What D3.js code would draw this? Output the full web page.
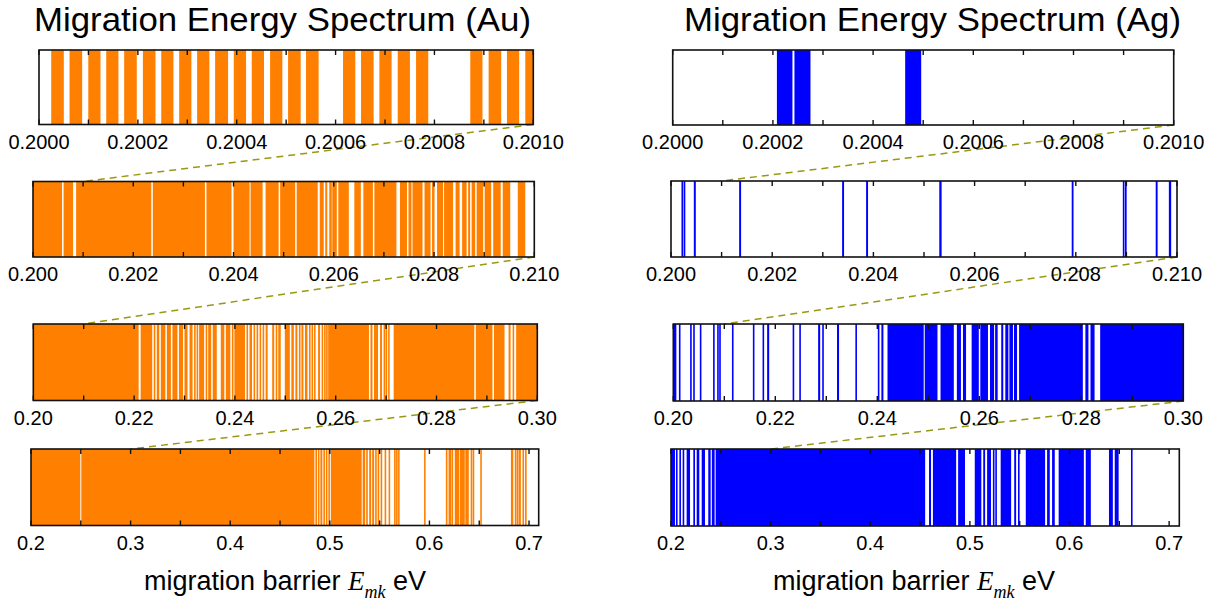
<!doctype html>
<html>
<head>
<meta charset="utf-8">
<title>Migration Energy Spectrum</title>
<script src="https://d3js.org/d3.v7.min.js"></script>
<style>
  body { margin: 0; background: #fff; }
  text { font-family: "Liberation Sans", Arial, sans-serif; fill: #000; }
</style>
</head>
<body>
<svg id="chart" width="1226" height="607"></svg>
<script>
// spectrum bands [low, high] in eV

// Au, zoom 0.2000 - 0.2010
const auRow1 = [
  [0.2000247, 0.2000502], [0.2000618, 0.2000873], [0.2000997, 0.2001244], [0.2001360, 0.2001607],
  [0.2001723, 0.2001978], [0.2002102, 0.2002357], [0.2002473, 0.2002720], [0.2002836, 0.2003083],
  [0.2003199, 0.2003447], [0.2003563, 0.2003825], [0.2003941, 0.2004189], [0.2004304, 0.2004552],
  [0.2004675, 0.2004923], [0.2005039, 0.2005294], [0.2005402, 0.2005657], [0.2006151, 0.2006399],
  [0.2006515, 0.2006770], [0.2006886, 0.2007133], [0.2007257, 0.2007504], [0.2007628, 0.2007875],
  [0.2008725, 0.2008972], [0.2009096, 0.2009351], [0.2009467, 0.2009714], [0.2009838, 0.2010000]
];
// Au, zoom 0.200 - 0.210
const auRow2 = [
  [0.20000, 0.20058], [0.20061, 0.20080], [0.20086, 0.20236], [0.20239, 0.20343], [0.20346, 0.20396],
  [0.20400, 0.20432], [0.20434, 0.20458], [0.20464, 0.20490], [0.20493, 0.20523], [0.20526, 0.20568],
  [0.20572, 0.20580], [0.20583, 0.20587], [0.20591, 0.20596], [0.20597, 0.20606], [0.20609, 0.20630],
  [0.20641, 0.20654], [0.20659, 0.20678], [0.20681, 0.20725], [0.20732, 0.20746], [0.20749, 0.20755],
  [0.20757, 0.20777], [0.20781, 0.20793], [0.20796, 0.20801], [0.20806, 0.20818], [0.20820, 0.20838],
  [0.20843, 0.20851], [0.20856, 0.20865], [0.20868, 0.20872], [0.20875, 0.20882], [0.20885, 0.20898],
  [0.20901, 0.20914], [0.20918, 0.20933], [0.20937, 0.20952], [0.20967, 0.20982]
];
// Au, zoom 0.20 - 0.30
const auRow3 = [
  [0.2000, 0.2209], [0.2213, 0.2236], [0.2239, 0.2241], [0.2245, 0.2250], [0.2253, 0.2262],
  [0.2265, 0.2273], [0.2276, 0.2286], [0.2289, 0.2297], [0.2300, 0.2306], [0.2310, 0.2316],
  [0.2319, 0.2321], [0.2324, 0.2326], [0.2329, 0.2339], [0.2342, 0.2344], [0.2347, 0.2353],
  [0.2356, 0.2364], [0.2372, 0.2379], [0.2382, 0.2391], [0.2394, 0.2396], [0.2399, 0.2420],
  [0.2423, 0.2426], [0.2429, 0.2434], [0.2437, 0.2440], [0.2443, 0.2446], [0.2449, 0.2452],
  [0.2455, 0.2458], [0.2461, 0.2465], [0.2474, 0.2478], [0.2481, 0.2482], [0.2486, 0.2491],
  [0.2499, 0.2509], [0.2512, 0.2517], [0.2520, 0.2524], [0.2527, 0.2529], [0.2532, 0.2536],
  [0.2539, 0.2544], [0.2547, 0.2549], [0.2552, 0.2554], [0.2557, 0.2560], [0.2565, 0.2569],
  [0.2572, 0.2574], [0.2577, 0.2578], [0.2581, 0.2582], [0.2585, 0.2666], [0.2669, 0.2673],
  [0.2676, 0.2684], [0.2688, 0.2692], [0.2695, 0.2696], [0.2699, 0.2700], [0.2704, 0.2707],
  [0.2715, 0.2875], [0.2878, 0.2911], [0.2914, 0.2935], [0.2943, 0.2947], [0.2951, 0.2954],
  [0.2958, 0.3000]
];
// Au, full range 0.2 - 0.71
const auRow4 = [
  [0.2000, 0.2495], [0.2505, 0.4845], [0.4855, 0.4870], [0.4880, 0.4895], [0.4905, 0.4925],
  [0.4935, 0.4945], [0.4960, 0.4970], [0.4985, 0.4990], [0.5010, 0.5320], [0.5330, 0.5355],
  [0.5365, 0.5380], [0.5395, 0.5415], [0.5425, 0.5445], [0.5455, 0.5470], [0.5480, 0.5490],
  [0.5510, 0.5515], [0.5550, 0.5555], [0.5590, 0.5594], [0.5645, 0.5650], [0.5665, 0.5670],
  [0.5685, 0.5688], [0.5946, 0.5952], [0.6165, 0.6170], [0.6192, 0.6197], [0.6203, 0.6207],
  [0.6222, 0.6238], [0.6254, 0.6300], [0.6306, 0.6355], [0.6360, 0.6395], [0.6414, 0.6418],
  [0.6434, 0.6438], [0.6510, 0.6514], [0.6818, 0.6842], [0.6857, 0.6861], [0.6876, 0.6880],
  [0.6895, 0.6918], [0.6934, 0.6938], [0.6960, 0.6975]
];

// Ag, zoom 0.2000 - 0.2010
const agRow1 = [
  [0.200208, 0.200239], [0.200243, 0.200275], [0.200464, 0.200496]
];
// Ag, zoom 0.200 - 0.210
const agRow2 = [
  [0.200207, 0.200240], [0.200250, 0.200283], [0.200451, 0.200490], [0.201347, 0.201385],
  [0.203382, 0.203420], [0.203856, 0.203894], [0.205302, 0.205348], [0.207919, 0.207955],
  [0.208929, 0.208960], [0.208970, 0.209005], [0.209579, 0.209617], [0.209839, 0.209885]
];
// Ag, zoom 0.20 - 0.30
const agRow3 = [
  [0.2000, 0.2006], [0.2011, 0.2014], [0.2033, 0.2035], [0.2039, 0.2040], [0.2052, 0.2054],
  [0.2078, 0.2080], [0.2086, 0.2088], [0.2090, 0.2093], [0.2115, 0.2118], [0.2156, 0.2159],
  [0.2175, 0.2178], [0.2184, 0.2188], [0.2234, 0.2237], [0.2247, 0.2249], [0.2284, 0.2288],
  [0.2292, 0.2295], [0.2321, 0.2325], [0.2357, 0.2359], [0.2401, 0.2404], [0.2408, 0.2412],
  [0.2420, 0.2491], [0.2493, 0.2518], [0.2524, 0.2550], [0.2556, 0.2564], [0.2568, 0.2574],
  [0.2585, 0.2599], [0.2602, 0.2617], [0.2621, 0.2629], [0.2631, 0.2636], [0.2643, 0.2647],
  [0.2651, 0.2657], [0.2659, 0.2666], [0.2668, 0.2674], [0.2678, 0.2803], [0.2808, 0.2814],
  [0.2818, 0.2826], [0.2837, 0.3000]
];
// Ag, full range 0.2 - 0.71
const agRow4 = [
  [0.2000, 0.2040], [0.2050, 0.2064], [0.2084, 0.2100], [0.2117, 0.2133], [0.2157, 0.2191],
  [0.2224, 0.2241], [0.2258, 0.2284], [0.2308, 0.2341], [0.2374, 0.2398], [0.2410, 0.2438],
  [0.2448, 0.4551], [0.4590, 0.4610], [0.4629, 0.4862], [0.4882, 0.4951], [0.5049, 0.5115],
  [0.5134, 0.5153], [0.5173, 0.5212], [0.5231, 0.5245], [0.5255, 0.5270], [0.5309, 0.5414],
  [0.5445, 0.5464], [0.5483, 0.5490], [0.5561, 0.5755], [0.5775, 0.5802], [0.5825, 0.5852],
  [0.5891, 0.6144], [0.6163, 0.6214], [0.6396, 0.6435], [0.6454, 0.6493], [0.6617, 0.6629]
];

// axis ranges and ticks per zoom level
const rowDomainsAu = [[0.2, 0.201], [0.2, 0.21], [0.2, 0.3], [0.2, 0.7097]];
const rowDomainsAg = [[0.2, 0.201], [0.2, 0.21], [0.2, 0.3], [0.2, 0.7102]];
const majorTicks = [
  [0.2000, 0.2002, 0.2004, 0.2006, 0.2008, 0.2010],
  [0.200, 0.202, 0.204, 0.206, 0.208, 0.210],
  [0.20, 0.22, 0.24, 0.26, 0.28, 0.30],
  [0.2, 0.3, 0.4, 0.5, 0.6, 0.7]
];
const minorTicks = [
  [0.2001, 0.2003, 0.2005, 0.2007, 0.2009],
  [0.201, 0.203, 0.205, 0.207, 0.209],
  [0.21, 0.23, 0.25, 0.27, 0.29],
  [0.25, 0.35, 0.45, 0.55, 0.65]
];
const tickFormats = [".4f", ".3f", ".2f", ".1f"];

const svg = d3.select("#chart");

const columns = [
  {
    title: "Migration Energy Spectrum (Au)", titleX: 34, labelX: 144,
    color: "#ff8000", rows: [auRow1, auRow2, auRow3, auRow4], domains: rowDomainsAu,
    boxes: [[39, 533.3, 50, 124.5], [33, 534.3, 181.5, 257], [33.3, 537.3, 324, 400.5], [31, 538.7, 449, 525.5]]
  },
  {
    title: "Migration Energy Spectrum (Ag)", titleX: 684, labelX: 773,
    color: "#0000ff", rows: [agRow1, agRow2, agRow3, agRow4], domains: rowDomainsAg,
    boxes: [[672.7, 1173.7, 50, 125], [671, 1177, 181, 257], [673.3, 1183.3, 324, 401], [671, 1179.3, 449, 526]]
  }
];

columns.forEach(function(col, ci) {
  // title
  svg.append("text")
    .attr("x", col.titleX)
    .attr("y", 31)
    .attr("font-size", 33)
    .attr("textLength", 497)
    .attr("lengthAdjust", "spacingAndGlyphs")
    .text(col.title);

  const scales = col.boxes.map((b, ri) => d3.scaleLinear().domain(col.domains[ri]).range([b[0], b[1]]));

  // dashed zoom guides, behind everything else
  for (let ri = 0; ri < 3; ri++) {
    const top = col.boxes[ri], bot = col.boxes[ri + 1];
    const v = col.domains[ri][1];
    svg.append("line")
      .attr("x1", scales[ri](v)).attr("y1", top[3])
      .attr("x2", scales[ri + 1](v)).attr("y2", bot[2])
      .attr("stroke", "#999911")
      .attr("stroke-width", 1.5)
      .attr("stroke-dasharray", "7,5");
  }

  col.rows.forEach(function(data, ri) {
    const b = col.boxes[ri];
    const x = scales[ri];
    const g = svg.append("g");

    const clipId = "clip" + ci + "_" + ri;
    g.append("clipPath").attr("id", clipId)
      .append("rect").attr("x", b[0]).attr("y", b[2]).attr("width", b[1] - b[0]).attr("height", b[3] - b[2]);

    g.append("g").attr("clip-path", "url(#" + clipId + ")")
      .selectAll("rect")
      .data(data)
      .join("rect")
        .attr("x", d => x(d[0]))
        .attr("y", b[2])
        .attr("width", d => Math.max(x(d[1]) - x(d[0]), 1.6))
        .attr("height", b[3] - b[2])
        .attr("fill", col.color);

    // frame
    g.append("rect")
      .attr("x", b[0]).attr("y", b[2])
      .attr("width", b[1] - b[0]).attr("height", b[3] - b[2])
      .attr("fill", "none")
      .attr("stroke", "#111")
      .attr("stroke-width", 1.6);

    // inward ticks top and bottom
    const allTicks = majorTicks[ri].concat(minorTicks[ri]);
    g.selectAll(".tb")
      .data(allTicks)
      .join("line")
        .attr("x1", d => x(d)).attr("x2", d => x(d))
        .attr("y1", b[3]).attr("y2", b[3] - 5)
        .attr("stroke", "#111").attr("stroke-width", 1.4);
    g.selectAll(".tt")
      .data(allTicks)
      .join("line")
        .attr("x1", d => x(d)).attr("x2", d => x(d))
        .attr("y1", b[2]).attr("y2", b[2] + 5)
        .attr("stroke", "#111").attr("stroke-width", 1.4);

    // tick labels
    const fmt = d3.format(tickFormats[ri]);
    g.selectAll(".lab")
      .data(majorTicks[ri])
      .join("text")
        .attr("x", d => x(d))
        .attr("y", b[3] + 24)
        .attr("text-anchor", "middle")
        .attr("font-size", 20)
        .text(d => fmt(d));
  });

  // x axis label
  const lab = svg.append("text")
    .attr("x", col.labelX)
    .attr("y", 590)
    .attr("font-size", 27);
  lab.append("tspan").text("migration barrier ");
  lab.append("tspan")
    .style("font-family", "'Liberation Serif', 'Times New Roman', serif")
    .style("font-style", "italic")
    .text("E");
  lab.append("tspan")
    .attr("dy", 8)
    .attr("font-size", 18)
    .style("font-family", "'Liberation Serif', 'Times New Roman', serif")
    .style("font-style", "italic")
    .text("mk");
  lab.append("tspan")
    .attr("dy", -8)
    .text(" eV");
});
</script>
</body>
</html>
